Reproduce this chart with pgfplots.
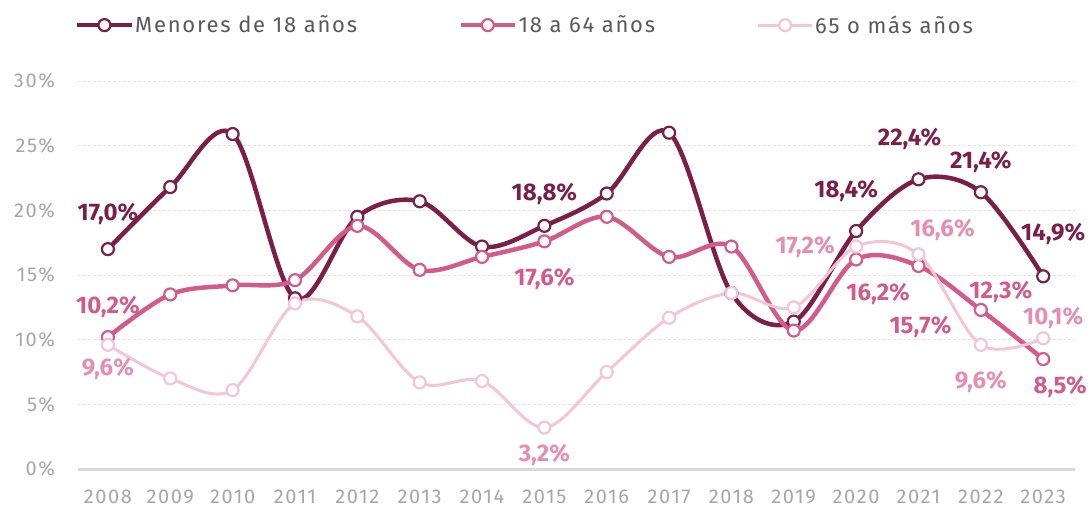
\documentclass[border=0pt]{standalone}
\usepackage{pgfplots}
\pgfplotsset{compat=1.18}
\usepackage{fontspec}
\setmainfont{Fira Sans}
\newfontfamily\spacedfont{Fira Sans}[LetterSpace=8]
\definecolor{cDark}{HTML}{7B1E48}
\definecolor{cMid}{HTML}{D35B8C}
\definecolor{cLight}{HTML}{F2C5D7}
\definecolor{cLightLbl}{HTML}{E68DB4}
\definecolor{cTick}{HTML}{A6A6A6}
\definecolor{cLeg}{HTML}{595959}
\definecolor{cGrid}{HTML}{E3E3E3}
\definecolor{cAxis}{HTML}{D9D9D9}
\newcommand{\lbl}{\fontsize{24bp}{28bp}\selectfont\bfseries}
\begin{document}
\begin{tikzpicture}
\path[use as bounding box] (-78bp,-41bp) rectangle (1013bp,469bp);
\begin{axis}[
 scale only axis, width=997bp, height=388bp,
 at={(0,0)}, anchor=south west,
 xmin=2007.52, xmax=2023.51, ymin=0, ymax=30,
 xtick={2008,...,2023}, ytick={0,5,...,30},
 axis x line*=bottom, axis y line*=left,
 separate axis lines,
 x axis line style={draw=cAxis, line width=3bp, -},
 y axis line style={draw=none},
 major tick length=0pt,
 ymajorgrids,
 grid style={draw=cGrid, line width=0.8bp, dash pattern=on 3bp off 2bp},
 /pgf/number format/assume math mode=true,
 yticklabel={\pgfmathprintnumber{\tick}\%},
 yticklabel style={text=cTick, font=\spacedfont\fontsize{20bp}{24bp}\selectfont, inner sep=0pt, xshift=-23bp},
 xticklabel style={text=cTick, font=\spacedfont\fontsize{20bp}{24bp}\selectfont, inner sep=0pt, yshift=-21bp, /pgf/number format/1000 sep={}},
 clip=false,
 legend columns=3,
 legend style={draw=none, fill=none, at={(axis description cs:-0.003,1.144)}, anchor=west,
   font=\spacedfont\fontsize{22bp}{26bp}\selectfont, text=cLeg, inner sep=0pt,
   nodes={inner sep=1.5bp},
   /tikz/every even column/.append style={column sep=100bp}},
 legend image code/.code={\draw[#1, mark repeat=2, mark phase=2] plot coordinates {(0bp,0bp) (27bp,0bp) (54bp,0bp)};},
]
\addplot[smooth, tension=0.55, color=cDark, line width=4.5bp, mark=*, mark size=6bp,
  mark options={fill=white, draw=cDark, line width=2.2bp}] coordinates {
 (2008,17.0) (2009,21.8) (2010,25.9) (2011,13.2) (2012,19.5) (2013,20.7) (2014,17.2) (2015,18.8)
 (2016,21.3) (2017,26.0) (2018,13.6) (2019,11.4) (2020,18.4) (2021,22.4) (2022,21.4) (2023,14.9)};
\addlegendentry{Menores de 18 años}
\addplot[smooth, tension=0.55, color=cMid, line width=4.5bp, mark=*, mark size=6bp,
  mark options={fill=white, draw=cMid, line width=2.2bp}] coordinates {
 (2008,10.2) (2009,13.5) (2010,14.2) (2011,14.6) (2012,18.8) (2013,15.4) (2014,16.4) (2015,17.6)
 (2016,19.5) (2017,16.4) (2018,17.2) (2019,10.7) (2020,16.2) (2021,15.7) (2022,12.3) (2023,8.5)};
\addlegendentry{18 a 64 años}
\addplot[smooth, tension=0.55, color=cLight, line width=3bp, mark=*, mark size=6bp,
  mark options={fill=white, draw=cLight, line width=2.2bp}] coordinates {
 (2008,9.6) (2009,7.0) (2010,6.1) (2011,12.8) (2012,11.8) (2013,6.7) (2014,6.8) (2015,3.2)
 (2016,7.5) (2017,11.7) (2018,13.6) (2019,12.5) (2020,17.2) (2021,16.6) (2022,9.6) (2023,10.1)};
\addlegendentry{65 o más años}
% labels dark
\node[text=cDark, font=\lbl, shift={(0bp,35bp)}] at (axis cs:2008,17.0) {17,0\%};
\node[text=cDark, font=\lbl, shift={(0bp,32bp)}] at (axis cs:2015,18.8) {18,8\%};
\node[text=cDark, font=\lbl, shift={(-10bp,40bp)}] at (axis cs:2020,18.4) {18,4\%};
\node[text=cDark, font=\lbl, shift={(-9bp,40bp)}] at (axis cs:2021,22.4) {22,4\%};
\node[text=cDark, font=\lbl, shift={(0bp,30bp)}] at (axis cs:2022,21.4) {21,4\%};
\node[text=cDark, font=\lbl, shift={(10bp,42bp)}] at (axis cs:2023,14.9) {14,9\%};
% labels mid
\node[text=cMid, font=\lbl, shift={(0bp,30bp)}] at (axis cs:2008,10.2) {10,2\%};
\node[text=cMid, font=\lbl, shift={(0bp,-38bp)}] at (axis cs:2015,17.6) {17,6\%};
\node[text=cMid, font=\lbl, shift={(22bp,-35bp)}] at (axis cs:2020,16.2) {16,2\%};
\node[text=cMid, font=\lbl, shift={(2bp,-61bp)}] at (axis cs:2021,15.7) {15,7\%};
\node[text=cMid, font=\lbl, shift={(20bp,18bp)}] at (axis cs:2022,12.3) {12,3\%};
\node[text=cMid, font=\lbl, shift={(17bp,-28bp)}] at (axis cs:2023,8.5) {8,5\%};
% labels light
\node[text=cLightLbl, font=\lbl, shift={(0bp,-24bp)}] at (axis cs:2008,9.6) {9,6\%};
\node[text=cLightLbl, font=\lbl, shift={(0bp,-27bp)}] at (axis cs:2015,3.2) {3,2\%};
\node[text=cLightLbl, font=\lbl, shift={(-51bp,0bp)}] at (axis cs:2020,17.2) {17,2\%};
\node[text=cLightLbl, font=\lbl, shift={(24bp,24bp)}] at (axis cs:2021,16.6) {16,6\%};
\node[text=cLightLbl, font=\lbl, shift={(0bp,-37bp)}] at (axis cs:2022,9.6) {9,6\%};
\node[text=cLightLbl, font=\lbl, shift={(10bp,20bp)}] at (axis cs:2023,10.1) {10,1\%};
\end{axis}
\end{tikzpicture}
\end{document}
